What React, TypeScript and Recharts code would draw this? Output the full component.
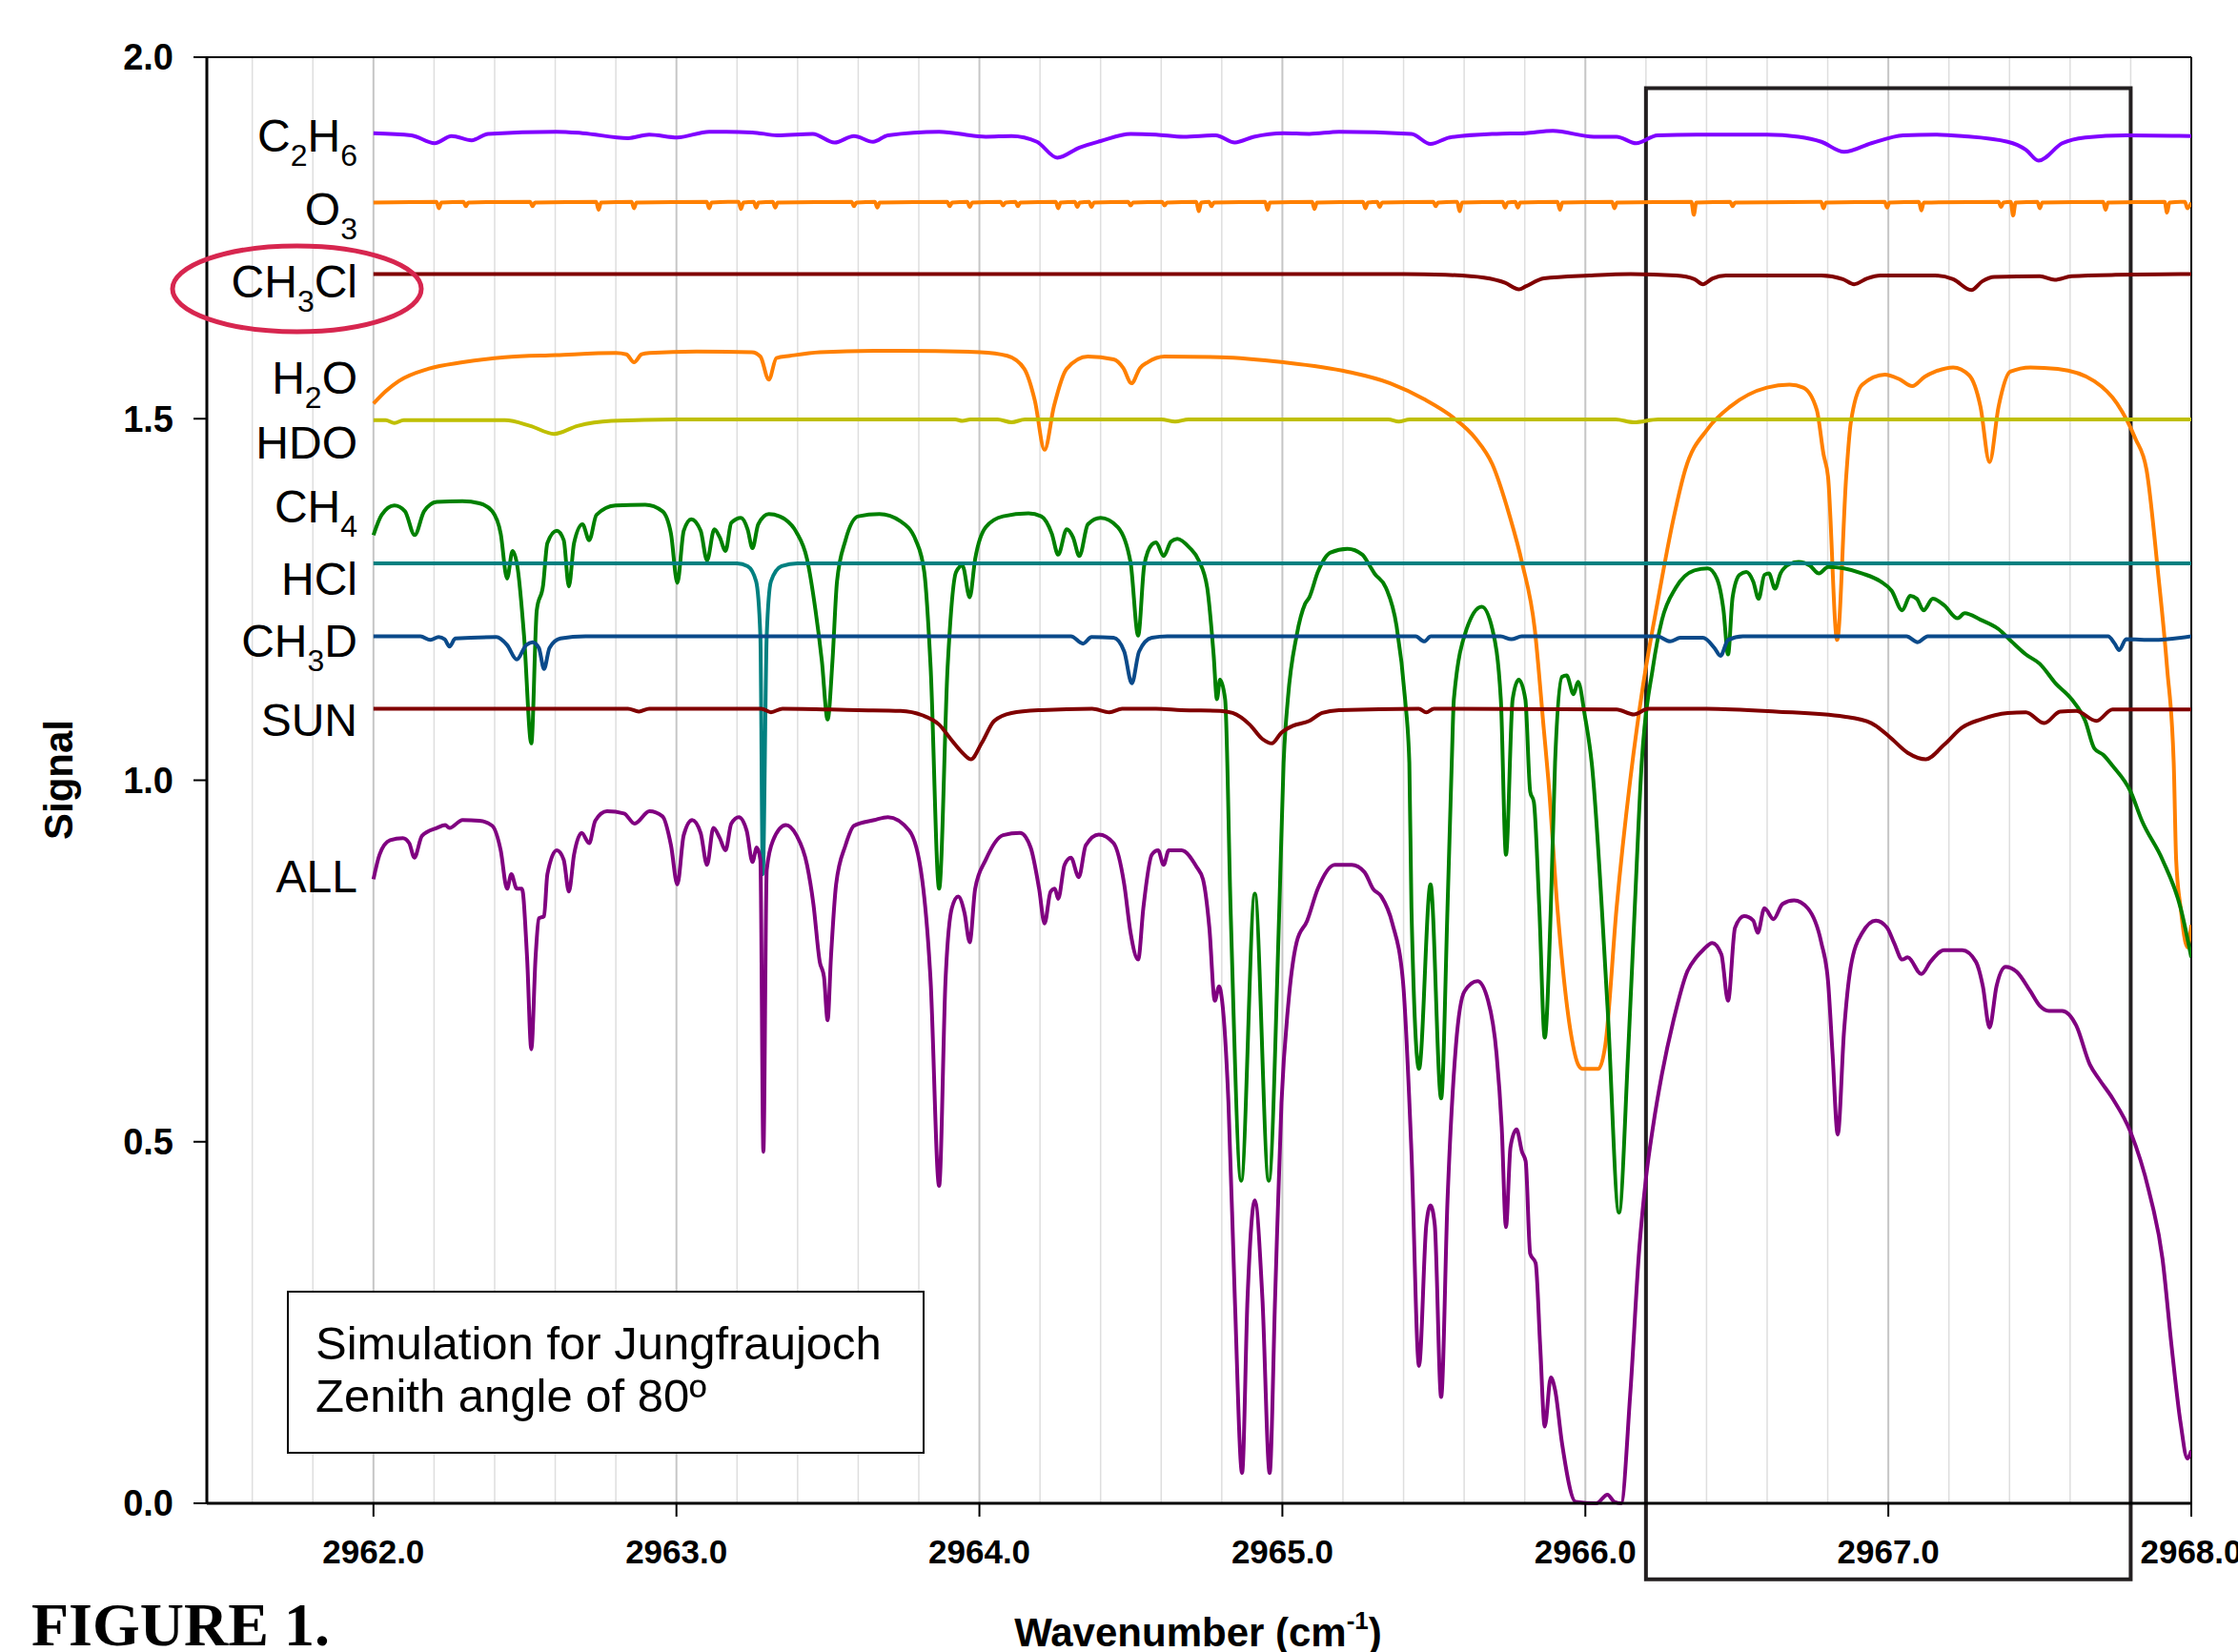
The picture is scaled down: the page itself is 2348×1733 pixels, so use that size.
import React from 'react'
import {
  LineChart,
  Line,
  XAxis,
  YAxis,
  CartesianGrid,
  ReferenceLine,
  ReferenceArea,
} from 'recharts'

// spectra: [wavenumber, signal]
const xTicks = [2962, 2963, 2964, 2965, 2966, 2967, 2968]
const minorTicks = [
  2961.6, 2961.8, 2962.2, 2962.4, 2962.6, 2962.8, 2963.2, 2963.4, 2963.6, 2963.8,
  2964.2, 2964.4, 2964.6, 2964.8, 2965.2, 2965.4, 2965.6, 2965.8, 2966.2, 2966.4,
  2966.6, 2966.8, 2967.2, 2967.4, 2967.6, 2967.8,
]
const yTicks = [0, 0.5, 1.0, 1.5, 2.0]

const c2h6: [number, number][] = [
  [2962.0, 1.895], [2962.125, 1.892], [2962.202, 1.881], [2962.258, 1.891], [2962.324, 1.885],
  [2962.378, 1.894], [2962.603, 1.897], [2962.69, 1.895], [2962.841, 1.888], [2962.91, 1.893],
  [2963.003, 1.889], [2963.108, 1.897], [2963.25, 1.896], [2963.333, 1.892], [2963.45, 1.894],
  [2963.522, 1.882], [2963.586, 1.891], [2963.649, 1.883], [2963.698, 1.892], [2963.867, 1.897],
  [2964.021, 1.89], [2964.106, 1.891], [2964.19, 1.883], [2964.257, 1.861], [2964.33, 1.875],
  [2964.4, 1.884], [2964.499, 1.894], [2964.583, 1.893], [2964.674, 1.89], [2964.78, 1.892],
  [2964.843, 1.882], [2964.906, 1.89], [2965.004, 1.895], [2965.089, 1.894], [2965.187, 1.897],
  [2965.426, 1.894], [2965.489, 1.88], [2965.552, 1.889], [2965.707, 1.894], [2965.802, 1.895],
  [2965.893, 1.898], [2966.028, 1.89], [2966.103, 1.89], [2966.168, 1.881], [2966.238, 1.892],
  [2966.404, 1.893], [2966.599, 1.893], [2966.704, 1.89], [2966.779, 1.883], [2966.854, 1.869],
  [2966.944, 1.881], [2967.049, 1.892], [2967.154, 1.893], [2967.244, 1.891], [2967.394, 1.883],
  [2967.454, 1.872], [2967.496, 1.857], [2967.574, 1.881], [2967.65, 1.889], [2967.785, 1.892],
  [2968.0, 1.891],
]

const o3: [number, number][] = [
  [2962.0, 1.799], [2962.208, 1.8], [2962.216, 1.791], [2962.224, 1.799], [2962.297, 1.8],
  [2962.305, 1.794], [2962.313, 1.799], [2962.517, 1.8], [2962.525, 1.794], [2962.533, 1.799],
  [2962.735, 1.8], [2962.743, 1.789], [2962.751, 1.799], [2962.852, 1.8], [2962.86, 1.791],
  [2962.868, 1.799], [2963.1, 1.8], [2963.108, 1.791], [2963.116, 1.799], [2963.205, 1.8],
  [2963.213, 1.79], [2963.221, 1.799], [2963.255, 1.8], [2963.263, 1.792], [2963.271, 1.799],
  [2963.318, 1.8], [2963.326, 1.792], [2963.334, 1.799], [2963.578, 1.8], [2963.586, 1.794],
  [2963.594, 1.799], [2963.655, 1.8], [2963.663, 1.792], [2963.671, 1.799], [2963.894, 1.8],
  [2963.902, 1.794], [2963.91, 1.799], [2963.96, 1.8], [2963.968, 1.793], [2963.976, 1.799],
  [2964.07, 1.8], [2964.078, 1.795], [2964.086, 1.799], [2964.119, 1.8], [2964.127, 1.794],
  [2964.135, 1.799], [2964.252, 1.8], [2964.26, 1.791], [2964.268, 1.799], [2964.315, 1.8],
  [2964.323, 1.793], [2964.331, 1.799], [2964.362, 1.8], [2964.37, 1.793], [2964.378, 1.799],
  [2964.491, 1.8], [2964.499, 1.795], [2964.507, 1.799], [2964.603, 1.8], [2964.611, 1.795],
  [2964.619, 1.799], [2964.716, 1.8], [2964.724, 1.787], [2964.732, 1.799], [2964.758, 1.8],
  [2964.766, 1.794], [2964.774, 1.799], [2964.943, 1.8], [2964.951, 1.789], [2964.959, 1.799],
  [2965.098, 1.8], [2965.106, 1.79], [2965.114, 1.799], [2965.266, 1.8], [2965.274, 1.791],
  [2965.282, 1.799], [2965.313, 1.8], [2965.321, 1.793], [2965.329, 1.799], [2965.498, 1.8],
  [2965.506, 1.794], [2965.514, 1.799], [2965.577, 1.8], [2965.585, 1.787], [2965.593, 1.799],
  [2965.727, 1.8], [2965.735, 1.792], [2965.743, 1.799], [2965.769, 1.8], [2965.777, 1.792],
  [2965.785, 1.799], [2965.908, 1.8], [2965.916, 1.789], [2965.924, 1.799], [2966.088, 1.8],
  [2966.096, 1.791], [2966.104, 1.799], [2966.35, 1.8], [2966.358, 1.782], [2966.366, 1.799],
  [2966.478, 1.8], [2966.486, 1.794], [2966.494, 1.799], [2966.778, 1.8], [2966.786, 1.791],
  [2966.794, 1.799], [2966.988, 1.8], [2966.996, 1.792], [2967.004, 1.799], [2967.101, 1.8],
  [2967.109, 1.788], [2967.117, 1.799], [2967.364, 1.8], [2967.372, 1.793], [2967.38, 1.799],
  [2967.404, 1.8], [2967.412, 1.781], [2967.42, 1.799], [2967.492, 1.8], [2967.5, 1.791],
  [2967.508, 1.799], [2967.709, 1.8], [2967.717, 1.789], [2967.725, 1.799], [2967.912, 1.8],
  [2967.92, 1.785], [2967.928, 1.799], [2967.979, 1.8], [2967.987, 1.791], [2968.0, 1.799],
]

const ch3cl: [number, number][] = [
  [2962.0, 1.7], [2965.4, 1.7], [2965.538, 1.699], [2965.665, 1.695], [2965.735, 1.688],
  [2965.781, 1.679], [2965.803, 1.683], [2965.863, 1.694], [2966.013, 1.698], [2966.15, 1.7],
  [2966.3, 1.698], [2966.36, 1.693], [2966.388, 1.686], [2966.42, 1.694], [2966.464, 1.698],
  [2966.779, 1.698], [2966.85, 1.693], [2966.887, 1.686], [2966.93, 1.694], [2966.974, 1.698],
  [2967.154, 1.698], [2967.214, 1.693], [2967.274, 1.678], [2967.31, 1.69], [2967.35, 1.696],
  [2967.5, 1.697], [2967.549, 1.692], [2967.605, 1.697], [2967.75, 1.699], [2968.0, 1.7],
]

const h2o: [number, number][] = [
  [2962.0, 1.521], [2962.04, 1.538], [2962.083, 1.552], [2962.181, 1.569], [2962.294, 1.578],
  [2962.434, 1.585], [2962.603, 1.588], [2962.8, 1.591], [2962.835, 1.589], [2962.86, 1.578],
  [2962.885, 1.589], [2962.911, 1.591], [2963.066, 1.593], [2963.249, 1.592], [2963.277, 1.586],
  [2963.305, 1.554], [2963.33, 1.584], [2963.375, 1.587], [2963.473, 1.592], [2963.653, 1.594],
  [2963.74, 1.594], [2964.003, 1.592], [2964.092, 1.587], [2964.148, 1.569], [2964.183, 1.525],
  [2964.215, 1.457], [2964.246, 1.517], [2964.288, 1.569], [2964.358, 1.586], [2964.443, 1.582],
  [2964.475, 1.57], [2964.502, 1.549], [2964.53, 1.57], [2964.555, 1.578], [2964.611, 1.586],
  [2964.794, 1.585], [2965.004, 1.578], [2965.215, 1.565], [2965.356, 1.549], [2965.468, 1.527],
  [2965.566, 1.501], [2965.637, 1.473], [2965.693, 1.437], [2965.749, 1.367], [2965.791, 1.301],
  [2965.833, 1.209], [2965.863, 1.07], [2965.878, 1.0], [2965.908, 0.822], [2965.953, 0.648],
  [2965.976, 0.607], [2965.99, 0.601], [2966.043, 0.601], [2966.066, 0.634], [2966.103, 0.823],
  [2966.148, 1.0], [2966.19, 1.13], [2966.24, 1.25], [2966.29, 1.36], [2966.33, 1.43],
  [2966.404, 1.486], [2966.479, 1.517], [2966.599, 1.543], [2966.674, 1.547],
  [2966.719, 1.543], [2966.764, 1.512], [2966.786, 1.451], [2966.801, 1.42], [2966.831, 1.194],
  [2966.861, 1.42], [2966.876, 1.494], [2966.914, 1.547], [2966.989, 1.561], [2967.035, 1.555],
  [2967.079, 1.545], [2967.12, 1.558], [2967.154, 1.565], [2967.214, 1.571], [2967.267, 1.56],
  [2967.304, 1.517], [2967.334, 1.44], [2967.364, 1.517], [2967.402, 1.565], [2967.469, 1.571],
  [2967.559, 1.569], [2967.68, 1.552], [2967.755, 1.521], [2967.815, 1.473], [2967.852, 1.43],
  [2967.89, 1.288], [2967.92, 1.156], [2967.942, 1.024], [2967.95, 0.89], [2967.965, 0.823],
  [2967.987, 0.769], [2968.0, 0.8],
]

const hdo: [number, number][] = [
  [2962.0, 1.498], [2962.04, 1.498], [2962.069, 1.494], [2962.1, 1.498], [2962.434, 1.498],
  [2962.518, 1.49], [2962.596, 1.479], [2962.673, 1.49], [2962.785, 1.497], [2963.0, 1.499],
  [2963.92, 1.499], [2963.944, 1.497], [2963.97, 1.499], [2964.06, 1.499], [2964.106, 1.495],
  [2964.15, 1.499], [2964.6, 1.499], [2964.646, 1.496], [2964.69, 1.499], [2965.35, 1.499],
  [2965.384, 1.496], [2965.42, 1.499], [2966.1, 1.499], [2966.16, 1.495], [2966.24, 1.499],
  [2968.0, 1.499],
]

const ch4: [number, number][] = [
  [2962.0, 1.339], [2962.027, 1.367], [2962.069, 1.38], [2962.104, 1.372], [2962.136, 1.339],
  [2962.167, 1.372], [2962.209, 1.385], [2962.294, 1.386], [2962.35, 1.383], [2962.392, 1.372],
  [2962.42, 1.341], [2962.441, 1.279], [2962.459, 1.317], [2962.476, 1.293], [2962.497, 1.2],
  [2962.521, 1.051], [2962.539, 1.235], [2962.56, 1.27], [2962.574, 1.328], [2962.605, 1.345],
  [2962.628, 1.332], [2962.645, 1.268], [2962.662, 1.328], [2962.69, 1.354], [2962.712, 1.332],
  [2962.736, 1.367], [2962.799, 1.38], [2962.897, 1.381], [2962.954, 1.372], [2962.982, 1.341],
  [2963.003, 1.273], [2963.024, 1.345], [2963.049, 1.361], [2963.08, 1.345], [2963.101, 1.304],
  [2963.125, 1.347], [2963.143, 1.336], [2963.162, 1.317], [2963.181, 1.356], [2963.213, 1.363],
  [2963.235, 1.347], [2963.251, 1.321], [2963.27, 1.354], [2963.305, 1.368], [2963.34, 1.365],
  [2963.358, 1.361], [2963.396, 1.343], [2963.431, 1.306], [2963.459, 1.235], [2963.48, 1.165],
  [2963.499, 1.084], [2963.515, 1.165], [2963.53, 1.275], [2963.558, 1.332], [2963.6, 1.365],
  [2963.67, 1.368], [2963.74, 1.358], [2963.79, 1.332], [2963.818, 1.288], [2963.839, 1.156],
  [2963.867, 0.85], [2963.895, 1.156], [2963.923, 1.288], [2963.944, 1.297], [2963.968, 1.253],
  [2963.986, 1.306], [2964.021, 1.35], [2964.078, 1.365], [2964.162, 1.369], [2964.204, 1.365],
  [2964.239, 1.341], [2964.26, 1.312], [2964.288, 1.347], [2964.309, 1.336], [2964.33, 1.31],
  [2964.358, 1.354], [2964.4, 1.363], [2964.457, 1.35], [2964.499, 1.301], [2964.524, 1.2],
  [2964.544, 1.297], [2964.569, 1.326], [2964.583, 1.329], [2964.608, 1.31], [2964.632, 1.33],
  [2964.653, 1.334], [2964.695, 1.321], [2964.724, 1.304], [2964.752, 1.266], [2964.773, 1.174],
  [2964.784, 1.112], [2964.794, 1.139], [2964.811, 1.112], [2964.829, 0.823], [2964.864, 0.446],
  [2964.909, 0.843], [2964.955, 0.446], [2964.99, 0.823], [2965.004, 1.024], [2965.018, 1.112],
  [2965.047, 1.2], [2965.075, 1.244], [2965.089, 1.253], [2965.117, 1.288], [2965.159, 1.315],
  [2965.215, 1.32], [2965.264, 1.312], [2965.285, 1.299], [2965.304, 1.286], [2965.342, 1.266],
  [2965.377, 1.213], [2965.405, 1.112], [2965.419, 1.024], [2965.426, 0.823], [2965.451, 0.601],
  [2965.489, 0.856], [2965.524, 0.56], [2965.545, 0.823], [2965.559, 1.024], [2965.566, 1.112],
  [2965.608, 1.209], [2965.658, 1.24], [2965.693, 1.209], [2965.721, 1.112], [2965.738, 0.897],
  [2965.76, 1.112], [2965.78, 1.139], [2965.802, 1.112], [2965.818, 0.984], [2965.83, 0.97],
  [2965.848, 0.823], [2965.866, 0.644], [2965.886, 0.823], [2965.9, 1.024], [2965.923, 1.143],
  [2965.938, 1.145], [2965.961, 1.119], [2965.976, 1.136], [2965.998, 1.09], [2966.021, 1.024],
  [2966.073, 0.688], [2966.111, 0.402], [2966.141, 0.621], [2966.163, 0.823], [2966.186, 1.024],
  [2966.223, 1.156], [2966.253, 1.222], [2966.298, 1.266], [2966.358, 1.29], [2966.404, 1.293],
  [2966.434, 1.279], [2966.456, 1.235], [2966.471, 1.174], [2966.486, 1.253], [2966.509, 1.284],
  [2966.531, 1.288], [2966.554, 1.275], [2966.572, 1.251], [2966.591, 1.284], [2966.606, 1.286],
  [2966.626, 1.265], [2966.644, 1.286], [2966.674, 1.299], [2966.704, 1.302], [2966.741, 1.297],
  [2966.771, 1.286], [2966.801, 1.295], [2966.854, 1.293], [2966.914, 1.286], [2966.974, 1.275],
  [2967.011, 1.262], [2967.046, 1.235], [2967.072, 1.255], [2967.094, 1.251], [2967.116, 1.235],
  [2967.147, 1.251], [2967.184, 1.242], [2967.229, 1.224], [2967.252, 1.231], [2967.304, 1.222],
  [2967.364, 1.209], [2967.409, 1.191], [2967.454, 1.174], [2967.5, 1.161], [2967.552, 1.134],
  [2967.605, 1.112], [2967.65, 1.082], [2967.68, 1.044], [2967.71, 1.035], [2967.74, 1.02],
  [2967.8, 0.984], [2967.837, 0.944], [2967.905, 0.89], [2967.965, 0.823], [2968.0, 0.755],
]

const hcl: [number, number][] = [
  [2962.0, 1.3], [2963.2, 1.3], [2963.235, 1.296], [2963.263, 1.275], [2963.277, 1.2],
  [2963.285, 0.87], [2963.298, 1.2], [2963.312, 1.275], [2963.347, 1.296], [2963.4, 1.3],
  [2968.0, 1.3],
]

const ch3d: [number, number][] = [
  [2962.0, 1.199], [2962.155, 1.199], [2962.188, 1.194], [2962.215, 1.198], [2962.235, 1.195],
  [2962.251, 1.185], [2962.27, 1.196], [2962.406, 1.198], [2962.441, 1.187], [2962.473, 1.167],
  [2962.504, 1.187], [2962.525, 1.191], [2962.546, 1.183], [2962.563, 1.154], [2962.581, 1.183],
  [2962.617, 1.196], [2962.7, 1.199], [2964.302, 1.199], [2964.342, 1.189], [2964.37, 1.198],
  [2964.443, 1.197], [2964.478, 1.178], [2964.503, 1.134], [2964.527, 1.178], [2964.569, 1.197],
  [2964.62, 1.199], [2965.44, 1.199], [2965.468, 1.192], [2965.49, 1.199], [2965.72, 1.199],
  [2965.756, 1.195], [2965.79, 1.199], [2966.238, 1.199], [2966.28, 1.192], [2966.313, 1.197],
  [2966.388, 1.197], [2966.426, 1.183], [2966.446, 1.172], [2966.471, 1.194], [2966.52, 1.199],
  [2967.06, 1.199], [2967.097, 1.191], [2967.13, 1.199], [2967.725, 1.199], [2967.747, 1.189],
  [2967.762, 1.18], [2967.785, 1.195], [2967.875, 1.194], [2968.0, 1.199],
]

const sun: [number, number][] = [
  [2962.0, 1.099], [2962.84, 1.099], [2962.876, 1.095], [2962.91, 1.099], [2963.28, 1.099],
  [2963.312, 1.094], [2963.35, 1.099], [2963.6, 1.097], [2963.74, 1.096], [2963.811, 1.09],
  [2963.867, 1.077], [2963.909, 1.055], [2963.944, 1.038], [2963.972, 1.029], [2964.007, 1.051],
  [2964.049, 1.082], [2964.106, 1.093], [2964.204, 1.097], [2964.372, 1.099], [2964.429, 1.094],
  [2964.471, 1.099], [2964.583, 1.099], [2964.667, 1.097], [2964.794, 1.096], [2964.836, 1.093],
  [2964.892, 1.077], [2964.934, 1.057], [2964.965, 1.051], [2964.997, 1.066], [2965.033, 1.075],
  [2965.089, 1.082], [2965.131, 1.093], [2965.187, 1.097], [2965.45, 1.099], [2965.475, 1.094],
  [2965.5, 1.099], [2966.103, 1.098], [2966.16, 1.091], [2966.208, 1.099], [2966.4, 1.099],
  [2966.629, 1.095], [2966.854, 1.088], [2966.944, 1.079], [2967.004, 1.06], [2967.064, 1.038],
  [2967.124, 1.029], [2967.184, 1.049], [2967.244, 1.073], [2967.304, 1.084], [2967.394, 1.093],
  [2967.454, 1.094], [2967.515, 1.079], [2967.567, 1.095], [2967.62, 1.096], [2967.687, 1.082],
  [2967.74, 1.098], [2968.0, 1.098],
]

const all: [number, number][] = [
  [2962.0, 0.863], [2962.02, 0.897], [2962.055, 0.917], [2962.097, 0.92], [2962.118, 0.913],
  [2962.135, 0.893], [2962.16, 0.923], [2962.209, 0.934], [2962.237, 0.938], [2962.251, 0.934],
  [2962.294, 0.945], [2962.35, 0.944], [2962.392, 0.937], [2962.42, 0.903], [2962.441, 0.85],
  [2962.455, 0.87], [2962.473, 0.85], [2962.49, 0.85], [2962.507, 0.755], [2962.521, 0.628],
  [2962.535, 0.755], [2962.546, 0.809], [2962.563, 0.812], [2962.574, 0.87], [2962.605, 0.903],
  [2962.628, 0.89], [2962.645, 0.846], [2962.662, 0.897], [2962.687, 0.927], [2962.712, 0.913],
  [2962.732, 0.944], [2962.771, 0.957], [2962.827, 0.954], [2962.862, 0.94], [2962.911, 0.957],
  [2962.954, 0.95], [2962.982, 0.91], [2963.003, 0.856], [2963.024, 0.924], [2963.052, 0.945],
  [2963.08, 0.927], [2963.101, 0.883], [2963.122, 0.934], [2963.143, 0.92], [2963.162, 0.903],
  [2963.181, 0.94], [2963.206, 0.949], [2963.232, 0.93], [2963.251, 0.887], [2963.265, 0.907],
  [2963.277, 0.89], [2963.287, 0.486], [2963.298, 0.876], [2963.319, 0.917], [2963.361, 0.938],
  [2963.396, 0.924], [2963.431, 0.883], [2963.452, 0.829], [2963.473, 0.749], [2963.487, 0.728],
  [2963.499, 0.668], [2963.51, 0.755], [2963.527, 0.856], [2963.558, 0.91], [2963.586, 0.937],
  [2963.653, 0.945], [2963.698, 0.949], [2963.769, 0.93], [2963.811, 0.863], [2963.839, 0.722],
  [2963.867, 0.439], [2963.888, 0.722], [2963.909, 0.823], [2963.93, 0.839], [2963.951, 0.816],
  [2963.968, 0.776], [2963.986, 0.85], [2964.021, 0.89], [2964.078, 0.924], [2964.134, 0.927],
  [2964.169, 0.907], [2964.197, 0.85], [2964.215, 0.802], [2964.235, 0.846], [2964.249, 0.85],
  [2964.26, 0.836], [2964.281, 0.883], [2964.302, 0.893], [2964.328, 0.866], [2964.351, 0.91],
  [2964.394, 0.925], [2964.443, 0.913], [2964.478, 0.856], [2964.499, 0.789], [2964.524, 0.752],
  [2964.541, 0.823], [2964.569, 0.897], [2964.59, 0.903], [2964.608, 0.883], [2964.625, 0.903],
  [2964.667, 0.903], [2964.717, 0.88], [2964.738, 0.863], [2964.759, 0.796], [2964.777, 0.695],
  [2964.791, 0.715], [2964.801, 0.695], [2964.822, 0.554], [2964.843, 0.284], [2964.867, 0.042],
  [2964.885, 0.284], [2964.909, 0.419], [2964.934, 0.284], [2964.958, 0.042], [2964.976, 0.284],
  [2964.997, 0.554], [2965.019, 0.688], [2965.047, 0.776], [2965.082, 0.806], [2965.117, 0.85],
  [2965.173, 0.883], [2965.229, 0.883], [2965.271, 0.873], [2965.299, 0.85], [2965.327, 0.839],
  [2965.363, 0.802], [2965.398, 0.722], [2965.426, 0.486], [2965.451, 0.19], [2965.475, 0.385],
  [2965.489, 0.412], [2965.503, 0.385], [2965.524, 0.147], [2965.545, 0.419], [2965.573, 0.634],
  [2965.601, 0.708], [2965.644, 0.722], [2965.679, 0.695], [2965.707, 0.621], [2965.724, 0.52],
  [2965.738, 0.382], [2965.753, 0.493], [2965.773, 0.517], [2965.791, 0.486], [2965.803, 0.473],
  [2965.818, 0.345], [2965.836, 0.332], [2965.851, 0.217], [2965.866, 0.106], [2965.886, 0.174],
  [2965.9, 0.157], [2965.923, 0.083], [2965.968, 0.002], [2966.036, 0.0], [2966.073, 0.012],
  [2966.096, 0.002], [2966.118, 0.0], [2966.148, 0.15], [2966.178, 0.352], [2966.201, 0.453],
  [2966.223, 0.52], [2966.253, 0.594], [2966.291, 0.668], [2966.336, 0.735], [2966.366, 0.755],
  [2966.388, 0.765], [2966.419, 0.775], [2966.449, 0.759], [2966.471, 0.695], [2966.494, 0.796],
  [2966.524, 0.812], [2966.554, 0.806], [2966.569, 0.789], [2966.591, 0.823], [2966.621, 0.808],
  [2966.651, 0.829], [2966.689, 0.834], [2966.734, 0.823], [2966.779, 0.775], [2966.801, 0.722],
  [2966.816, 0.621], [2966.833, 0.51], [2966.854, 0.654], [2966.876, 0.742], [2966.914, 0.789],
  [2966.959, 0.806], [2966.996, 0.796], [2967.019, 0.775], [2967.046, 0.752], [2967.064, 0.755],
  [2967.109, 0.732], [2967.139, 0.749], [2967.184, 0.765], [2967.244, 0.765], [2967.289, 0.749],
  [2967.312, 0.715], [2967.334, 0.658], [2967.357, 0.715], [2967.387, 0.742], [2967.424, 0.735],
  [2967.469, 0.708], [2967.5, 0.688], [2967.53, 0.681], [2967.574, 0.681], [2967.62, 0.661],
  [2967.665, 0.607], [2967.695, 0.587], [2967.74, 0.56], [2967.8, 0.513], [2967.86, 0.432],
  [2967.905, 0.338], [2967.935, 0.217], [2967.965, 0.11], [2967.987, 0.062], [2968.0, 0.073],
]

const series = [
  { key: 'C2H6', data: c2h6, color: '#8000ff' },
  { key: 'O3', data: o3, color: '#ff8000' },
  { key: 'CH3Cl', data: ch3cl, color: '#800000' },
  { key: 'H2O', data: h2o, color: '#ff8000' },
  { key: 'HDO', data: hdo, color: '#bfbf00' },
  { key: 'CH4', data: ch4, color: '#008000' },
  { key: 'HCl', data: hcl, color: '#008080' },
  { key: 'CH3D', data: ch3d, color: '#0a4a8a' },
  { key: 'SUN', data: sun, color: '#800000' },
  { key: 'ALL', data: all, color: '#800080' },
]

const toPts = (arr: [number, number][]) => arr.map(([x, y]) => ({ x, y }))

const FONT = '"Liberation Sans", Arial, sans-serif'
const W = 2348
const H = 1733

// series names drawn left of each trace (sub = subscript digit)
function Formula({ y, parts }: { y: number; parts: (string | [string])[] }) {
  let shifted = false
  return (
    <text x={375} y={y} textAnchor="end" fontSize={48} fontFamily={FONT} fill="#000">
      {parts.map((p, i) => {
        if (Array.isArray(p)) {
          const el = (
            <tspan key={i} fontSize={32} dy={shifted ? 0 : 15}>
              {p[0]}
            </tspan>
          )
          shifted = true
          return el
        }
        const el = (
          <tspan key={i} dy={shifted ? -15 : 0}>
            {p}
          </tspan>
        )
        shifted = false
        return el
      })}
    </text>
  )
}

export default function App() {
  return (
    <div style={{ position: 'absolute', left: 0, top: 0, width: W, height: H, background: '#fff' }}>
      <LineChart width={W} height={H} margin={{ top: 60, right: 49, bottom: 6, left: 17 }}>
        <XAxis xAxisId="minor" type="number" dataKey="x" domain={[2961.45, 2968]} ticks={minorTicks} hide allowDataOverflow />
        <CartesianGrid xAxisId="minor" horizontal={false} stroke="#dedede" strokeWidth={1.5} />
        <CartesianGrid horizontal={false} stroke="#c6c6c6" strokeWidth={2} />
        <XAxis
          type="number"
          dataKey="x"
          domain={[2961.45, 2968]}
          ticks={xTicks}
          interval={0}
          allowDataOverflow
          height={150}
          tickSize={14}
          tickMargin={24}
          tickFormatter={(v: number) => v.toFixed(1)}
          axisLine={{ stroke: '#000', strokeWidth: 3 }}
          tickLine={{ stroke: '#000', strokeWidth: 2 }}
          tick={{ fontSize: 35, fontWeight: 700, fill: '#000', fontFamily: FONT }}
        />
        <YAxis
          type="number"
          domain={[0, 2]}
          ticks={yTicks}
          interval={0}
          width={200}
          tickSize={14}
          tickMargin={21}
          tickFormatter={(v: number) => v.toFixed(1)}
          axisLine={{ stroke: '#000', strokeWidth: 3 }}
          tickLine={{ stroke: '#000', strokeWidth: 2 }}
          tick={{ fontSize: 38, fontWeight: 700, fill: '#000', fontFamily: FONT }}
        />
        <ReferenceLine y={2} stroke="#000" strokeWidth={2} />
        <ReferenceLine x={2968} stroke="#000" strokeWidth={2} />
        {series.map((s) => (
          <Line
            key={s.key}
            data={toPts(s.data)}
            dataKey="y"
            name={s.key}
            type="monotone"
            stroke={s.color}
            strokeWidth={4}
            strokeLinejoin="round"
            dot={false}
            activeDot={false}
            isAnimationActive={false}
          />
        ))}
        <ReferenceArea
          x1={2966.2}
          x2={2967.8}
          y1={-0.105}
          y2={1.957}
          ifOverflow="visible"
          fill="none"
          fillOpacity={0}
          stroke="#231f20"
          strokeWidth={4}
        />
      </LineChart>

      <svg width={W} height={H} style={{ position: 'absolute', left: 0, top: 0, pointerEvents: 'none' }}>
        <Formula y={159} parts={['C', ['2'], 'H', ['6']]} />
        <Formula y={236} parts={['O', ['3']]} />
        <Formula y={312} parts={['CH', ['3'], 'Cl']} />
        <Formula y={413} parts={['H', ['2'], 'O']} />
        <Formula y={481} parts={['HDO']} />
        <Formula y={548} parts={['CH', ['4']]} />
        <Formula y={624} parts={['HCl']} />
        <Formula y={689} parts={['CH', ['3'], 'D']} />
        <Formula y={772} parts={['SUN']} />
        <Formula y={936} parts={['ALL']} />
        <ellipse cx={311.5} cy={303} rx={130.5} ry={45} fill="none" stroke="#d7264f" strokeWidth={5} />

        <rect x={302} y={1355} width={667} height={169} fill="#fff" stroke="#000" strokeWidth={2} />
        <text x={331} y={1426} fontSize={49} fontFamily={FONT} fill="#000">
          Simulation for Jungfraujoch
        </text>
        <text x={331} y={1481} fontSize={49} fontFamily={FONT} fill="#000">
          Zenith angle of 80º
        </text>

        <text
          transform="translate(76,818) rotate(-90)"
          textAnchor="middle"
          fontSize={42}
          fontWeight={700}
          fontFamily={FONT}
          fill="#000"
        >
          Signal
        </text>
        <text x={1257} y={1727} textAnchor="middle" fontSize={42} fontWeight={700} fontFamily={FONT} fill="#000">
          Wavenumber (cm
          <tspan fontSize={26} dy={-18}>
            -1
          </tspan>
          <tspan dy={18}>)</tspan>
        </text>
        <text x={33} y={1726} fontSize={64} fontWeight={700} fontFamily='"Liberation Serif", "Times New Roman", serif' fill="#000">
          FIGURE 1.
        </text>
      </svg>
    </div>
  )
}
